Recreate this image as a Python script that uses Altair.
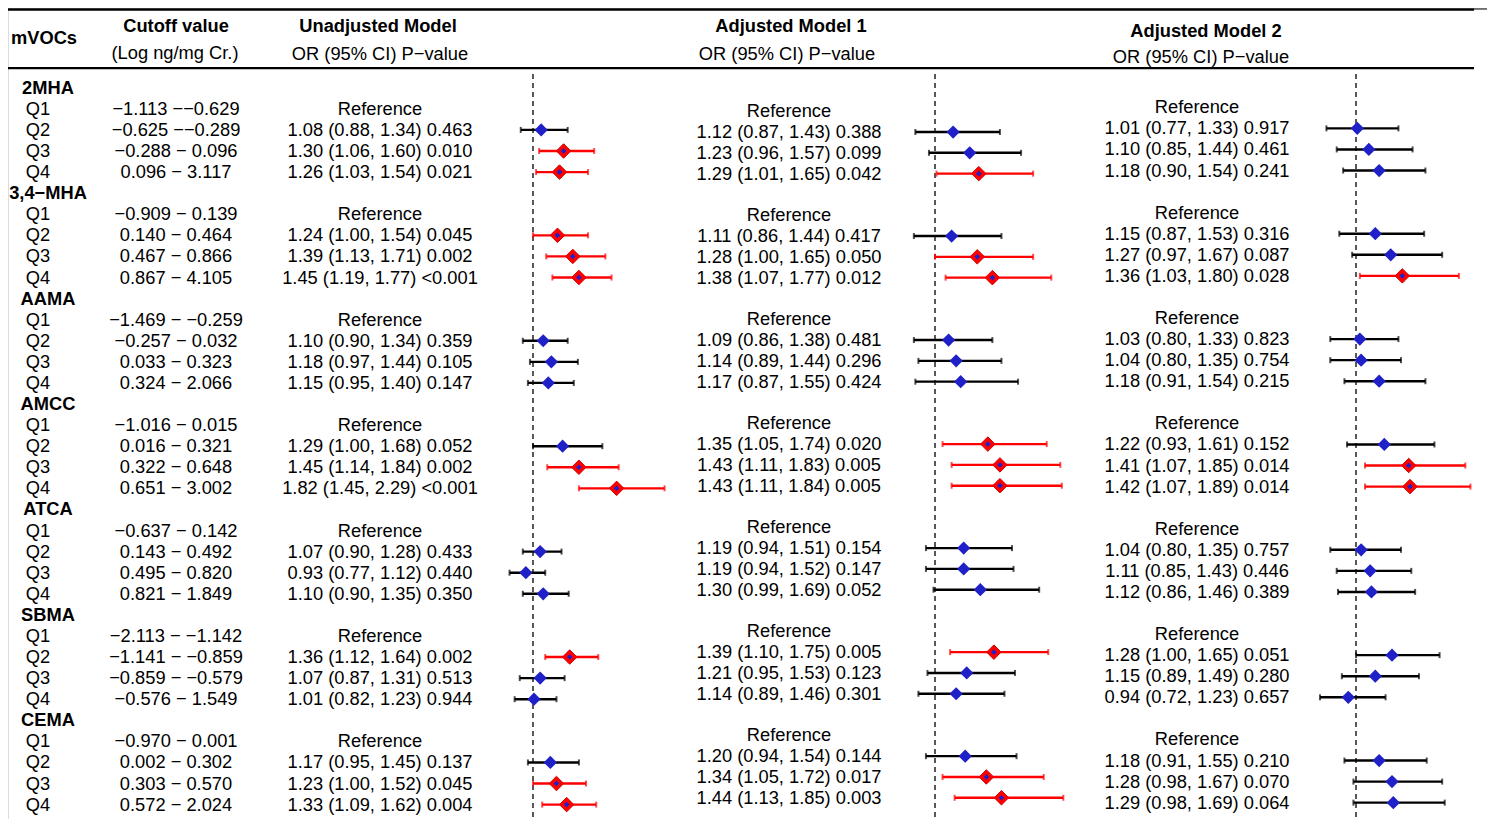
import altair as alt
import pandas as pd

FONT = "Liberation Sans"
BLUE = "#2020C8"
RED = "#FF0000"

groups = ["2MHA", "3,4−MHA", "AAMA", "AMCC", "ATCA", "SBMA", "CEMA"]
quartiles = ["Q1", "Q2", "Q3", "Q4"]
cutoffs = [
    "−1.113 −−0.629", "−0.625 −−0.289", "−0.288 − 0.096", "0.096 − 3.117",
    "−0.909 − 0.139", "0.140 − 0.464", "0.467 − 0.866", "0.867 − 4.105",
    "−1.469 − −0.259", "−0.257 − 0.032", "0.033 − 0.323", "0.324 − 2.066",
    "−1.016 − 0.015", "0.016 − 0.321", "0.322 − 0.648", "0.651 − 3.002",
    "−0.637 − 0.142", "0.143 − 0.492", "0.495 − 0.820", "0.821 − 1.849",
    "−2.113 − −1.142", "−1.141 − −0.859", "−0.859 − −0.579", "−0.576 − 1.549",
    "−0.970 − 0.001", "0.002 − 0.302", "0.303 − 0.570", "0.572 − 2.024",
]

# Q2..Q4 for each group
un_or = [1.08, 1.30, 1.26, 1.24, 1.39, 1.45, 1.10, 1.18, 1.15, 1.29, 1.45, 1.82, 1.07, 0.93, 1.10, 1.36, 1.07, 1.01, 1.17, 1.23, 1.33]
un_lo = [0.88, 1.06, 1.03, 1.00, 1.13, 1.19, 0.90, 0.97, 0.95, 1.00, 1.14, 1.45, 0.90, 0.77, 0.90, 1.12, 0.87, 0.82, 0.95, 1.00, 1.09]
un_hi = [1.34, 1.60, 1.54, 1.54, 1.71, 1.77, 1.34, 1.44, 1.40, 1.68, 1.84, 2.29, 1.28, 1.12, 1.35, 1.64, 1.31, 1.23, 1.45, 1.52, 1.62]
un_p = ["0.463", "0.010", "0.021", "0.045", "0.002", "<0.001", "0.359", "0.105", "0.147", "0.052", "0.002", "<0.001",
        "0.433", "0.440", "0.350", "0.002", "0.513", "0.944", "0.137", "0.045", "0.004"]

m1_or = [1.12, 1.23, 1.29, 1.11, 1.28, 1.38, 1.09, 1.14, 1.17, 1.35, 1.43, 1.43, 1.19, 1.19, 1.30, 1.39, 1.21, 1.14, 1.20, 1.34, 1.44]
m1_lo = [0.87, 0.96, 1.01, 0.86, 1.00, 1.07, 0.86, 0.89, 0.87, 1.05, 1.11, 1.11, 0.94, 0.94, 0.99, 1.10, 0.95, 0.89, 0.94, 1.05, 1.13]
m1_hi = [1.43, 1.57, 1.65, 1.44, 1.65, 1.77, 1.38, 1.44, 1.55, 1.74, 1.83, 1.84, 1.51, 1.52, 1.69, 1.75, 1.53, 1.46, 1.54, 1.72, 1.85]
m1_p = ["0.388", "0.099", "0.042", "0.417", "0.050", "0.012", "0.481", "0.296", "0.424", "0.020", "0.005", "0.005",
        "0.154", "0.147", "0.052", "0.005", "0.123", "0.301", "0.144", "0.017", "0.003"]

m2_or = [1.01, 1.10, 1.18, 1.15, 1.27, 1.36, 1.03, 1.04, 1.18, 1.22, 1.41, 1.42, 1.04, 1.11, 1.12, 1.28, 1.15, 0.94, 1.18, 1.28, 1.29]
m2_lo = [0.77, 0.85, 0.90, 0.87, 0.97, 1.03, 0.80, 0.80, 0.91, 0.93, 1.07, 1.07, 0.80, 0.85, 0.86, 1.00, 0.89, 0.72, 0.91, 0.98, 0.98]
m2_hi = [1.33, 1.44, 1.54, 1.53, 1.67, 1.80, 1.33, 1.35, 1.54, 1.61, 1.85, 1.89, 1.35, 1.43, 1.46, 1.65, 1.49, 1.23, 1.55, 1.67, 1.69]
m2_p = ["0.917", "0.461", "0.241", "0.316", "0.087", "0.028", "0.823", "0.754", "0.215", "0.152", "0.014", "0.014",
        "0.757", "0.446", "0.389", "0.051", "0.280", "0.657", "0.210", "0.070", "0.064"]

header_texts = ["mVOCs", "Cutoff value", "(Log ng/mg Cr.)", "Unadjusted Model", "OR (95% CI) P−value",
                "Adjusted Model 1", "Adjusted Model 2"]


def fmt(o, l, h, p):
    return f"{o:.2f} ({l:.2f}, {h:.2f}) {p}"


def pnum(p):
    return 0.0005 if p.startswith("<") else float(p)


# ---------- layout helpers (reference-pixel -> chart-pixel; page margin is 8px) ----------
def X(ref_x):
    return ref_x - 8


def Yp(ref_y):
    return 1.5 + (ref_y - 3) * 0.978


# ---------- build tables ----------
grp_rows, q_rows, f_un, f_m1, f_m2 = [], [], [], [], []
k = 0
for g, name in enumerate(groups):
    grp_rows.append({"row": 5 * g, "label": name})
    for q in range(4):
        r = 5 * g + 1 + q
        rec = {"row": r, "q": quartiles[q], "cut": cutoffs[4 * g + q]}
        if q == 0:
            rec["t_un"] = rec["t_m1"] = rec["t_m2"] = "Reference"
        else:
            rec["t_un"] = fmt(un_or[k], un_lo[k], un_hi[k], un_p[k])
            rec["t_m1"] = fmt(m1_or[k], m1_lo[k], m1_hi[k], m1_p[k])
            rec["t_m2"] = fmt(m2_or[k], m2_lo[k], m2_hi[k], m2_p[k])
            f_un.append({"row": r, "est": un_or[k], "lo": un_lo[k], "hi": un_hi[k], "pn": pnum(un_p[k])})
            f_m1.append({"row": r, "est": m1_or[k], "lo": m1_lo[k], "hi": m1_hi[k], "pn": pnum(m1_p[k])})
            f_m2.append({"row": r, "est": m2_or[k], "lo": m2_lo[k], "hi": m2_hi[k], "pn": pnum(m2_p[k])})
            k += 1
        q_rows.append(rec)

df_g = pd.DataFrame(grp_rows)
df_q = pd.DataFrame(q_rows)
one = pd.DataFrame({"v": [1.0]})

# ---------- scales ----------
y_main = alt.Scale(domain=[0, 34], range=[Yp(83), Yp(816)], zero=False, nice=False)
y_m1 = alt.Scale(domain=[1, 34], range=[Yp(107), Yp(809)], zero=False, nice=False)
y_m2 = alt.Scale(domain=[1, 34], range=[Yp(103), Yp(814)], zero=False, nice=False)
# OR = 1 at ref x 533 / 935 / 1356; px per OR unit 102 / 151 / 128.6
x_un = alt.Scale(domain=[0.5, 2.5], range=[X(533 - 51), X(533 + 153)], zero=False, nice=False)
x_m1 = alt.Scale(domain=[0.5, 2.0], range=[X(935 - 75.5), X(935 + 151)], zero=False, nice=False)
x_m2 = alt.Scale(domain=[0.5, 2.0], range=[X(1356 - 64.3), X(1356 + 128.6)], zero=False, nice=False)


def text_layer(df, field, x, yscale, bold=False):
    return alt.Chart(df).mark_text(
        align="center", baseline="middle", dy=1, font=FONT, fontSize=18.3,
        fontWeight="bold" if bold else "normal", color="black"
    ).encode(
        x=alt.value(x),
        y=alt.Y("row:Q", scale=yscale, axis=None),
        text=alt.Text(f"{field}:N"),
    )


def header(i, x, y, bold):
    return alt.Chart(one).mark_text(
        align="center", baseline="middle", dy=1, font=FONT, fontSize=18.3,
        fontWeight="bold" if bold else "normal", color="black"
    ).encode(x=alt.value(x), y=alt.value(Yp(y)), text=alt.value(header_texts[i]))


def forest(rows, xscale, yscale):
    df = pd.DataFrame(rows)
    sig = "datum.pn <= 0.05"
    base = alt.Chart(df)
    Yenc = alt.Y("row:Q", scale=yscale, axis=None)
    color = alt.condition(sig, alt.value(RED), alt.value("black"))
    ref = alt.Chart(one).mark_rule(strokeDash=[5, 4], strokeWidth=1.5, color="#222222").encode(
        x=alt.X("v:Q", scale=xscale, axis=None), y=alt.value(Yp(69)), y2=alt.value(811))
    line = base.mark_rule(strokeWidth=2.4).encode(
        x=alt.X("lo:Q", scale=xscale, axis=None), x2="hi:Q", y=Yenc, color=color)
    cap_lo = base.mark_tick(orient="vertical", size=6, thickness=2).encode(
        x=alt.X("lo:Q", scale=xscale, axis=None), y=Yenc, color=color)
    cap_hi = base.mark_tick(orient="vertical", size=6, thickness=2).encode(
        x=alt.X("hi:Q", scale=xscale, axis=None), y=Yenc, color=color)
    red = base.transform_filter(sig).mark_point(
        shape="diamond", filled=True, size=210, color=RED, opacity=1,
        stroke="#D00000", strokeWidth=1).encode(
        x=alt.X("est:Q", scale=xscale, axis=None), y=Yenc)
    blue = base.mark_point(shape="diamond", filled=True, opacity=1, color=BLUE).encode(
        x=alt.X("est:Q", scale=xscale, axis=None), y=Yenc,
        size=alt.condition(sig, alt.value(32), alt.value(175)))
    return [ref, line, cap_lo, cap_hi, red, blue]


rules = [
    alt.Chart(one).mark_rule(color="black", strokeWidth=2.6).encode(
        x=alt.value(0), x2=alt.value(X(1474)), y=alt.value(1.5)),
    alt.Chart(one).mark_rule(color="black", strokeWidth=1).encode(
        x=alt.value(X(1474)), x2=alt.value(1479), y=alt.value(1)),
    alt.Chart(one).mark_rule(color="black", strokeWidth=2.2).encode(
        x=alt.value(0), x2=alt.value(X(1474)), y=alt.value(Yp(63))),
]

headers = [
    header(0, max(X(44), 36), 32, True),
    header(1, X(176), 20, True),
    header(2, X(175), 47, False),
    header(3, X(378), 20, True),
    header(4, X(380), 48, False),
    header(5, X(791), 20, True),
    header(4, X(787), 48, False),
    header(6, X(1206), 25, True),
    header(4, X(1201), 52, False),
]

texts = [
    text_layer(df_g, "label", 40, y_main, bold=True),
    text_layer(df_q, "q", X(38), y_main),
    text_layer(df_q, "cut", X(176), y_main),
    text_layer(df_q, "t_un", X(380), y_main),
    text_layer(df_q, "t_m1", X(789), y_m1),
    text_layer(df_q, "t_m2", X(1197), y_m2),
]

layers = rules + headers + texts + forest(f_un, x_un, y_main) + forest(f_m1, x_m1, y_m1) + forest(f_m2, x_m2, y_m2)

chart = alt.layer(*layers).resolve_scale(x="independent", y="independent").properties(
    width=1479, height=811, padding=0,
    autosize=alt.AutoSizeParams(type="none"),
).configure_view(stroke=None).configure(background="white")

chart.save("out.html", embed_options={"renderer": "svg", "actions": False})
